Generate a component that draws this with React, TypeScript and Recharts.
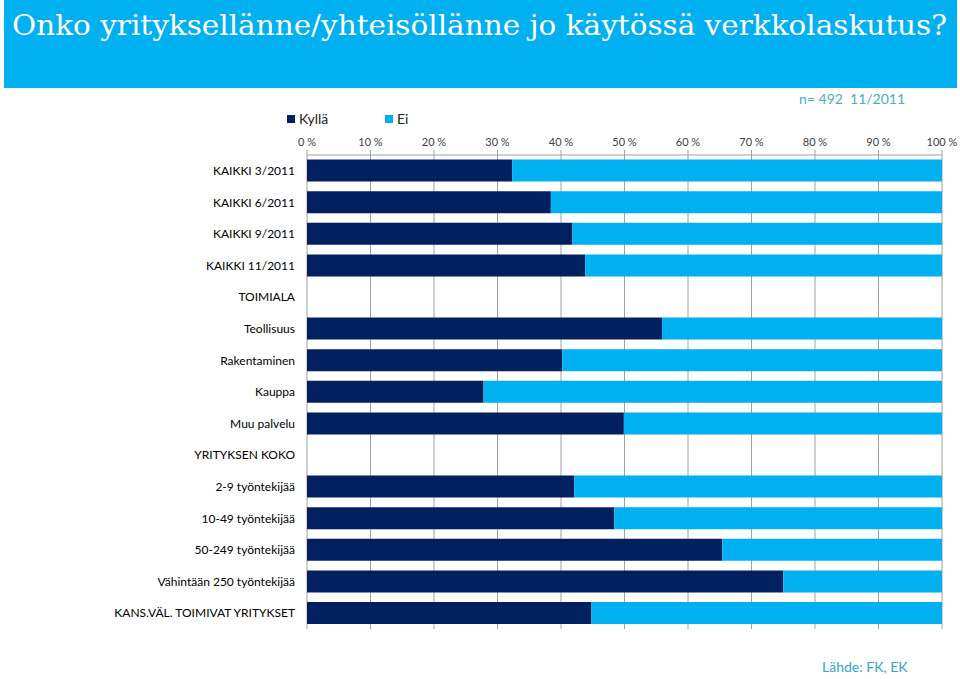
import React from 'react';
import { BarChart, Bar, XAxis, YAxis, CartesianGrid } from 'recharts';

const categories = [
  'KAIKKI 3/2011',
  'KAIKKI 6/2011',
  'KAIKKI 9/2011',
  'KAIKKI 11/2011',
  'TOIMIALA',
  'Teollisuus',
  'Rakentaminen',
  'Kauppa',
  'Muu palvelu',
  'YRITYKSEN KOKO',
  '2-9 työntekijää',
  '10-49 työntekijää',
  '50-249 työntekijää',
  'Vähintään 250 työntekijää',
  'KANS.VÄL. TOIMIVAT YRITYKSET',
];

const kylla: (number | null)[] = [32.3, 38.4, 41.8, 43.8, null, 55.9, 40.2, 27.8, 49.9, null, 42.1, 48.4, 65.4, 75.0, 44.8];
const ei: (number | null)[] = [67.7, 61.6, 58.2, 56.2, null, 44.1, 59.8, 72.2, 50.1, null, 57.9, 51.6, 34.6, 25.0, 55.2];

const seriesNames = ['Kyllä', 'Ei'];
const seriesColors = ['#002060', '#00B0F0'];

const xTicks = [0, 10, 20, 30, 40, 50, 60, 70, 80, 90, 100];
const rowTicks = [0, 1, 2, 3, 4, 5, 6, 7, 8, 9, 10, 11, 12, 13, 14, 15];

const data = categories.map((name, i) => ({ name, Kyllä: kylla[i], Ei: ei[i] }));

const FONT = 'Lato, "Open Sans", sans-serif';

export default function App() {
  return (
    <div style={{ position: 'absolute', left: 0, top: 0, width: 960, height: 679, background: '#fff', fontFamily: FONT }}>
      <svg width={960} height={92} style={{ position: 'absolute', left: 0, top: 0 }}>
        <rect x={4} y={0} width={953} height={88} fill="#00B0F0" />
        <text
          x={12}
          y={35}
          fontFamily='"DejaVu Serif", "Liberation Serif", serif'
          fontSize={28}
          fill="#fff"
          textLength={935}
          lengthAdjust="spacingAndGlyphs"
        >
          Onko yrityksellänne/yhteisöllänne jo käytössä verkkolaskutus?
        </text>
      </svg>
      <div style={{ position: 'absolute', left: 799, top: 90, fontSize: 14, color: '#4BACC6', whiteSpace: 'nowrap' }}>
        n= 492&nbsp; 11/2011
      </div>
      <div
        style={{
          position: 'absolute',
          left: 287,
          top: 111,
          display: 'flex',
          alignItems: 'center',
          fontSize: 14,
          color: '#222',
          lineHeight: '16px',
        }}
      >
        {seriesNames.map((n, i) => (
          <div key={n} style={{ display: 'flex', alignItems: 'center', width: 98 }}>
            <span style={{ display: 'inline-block', width: 8, height: 8, background: seriesColors[i], marginRight: 4 }} />
            <span>{n}</span>
          </div>
        ))}
      </div>
      <div style={{ position: 'absolute', left: 822, top: 658, fontSize: 14, color: '#31A5D0', whiteSpace: 'nowrap' }}>
        Lähde: FK, EK
      </div>
      <BarChart
        width={960}
        height={679}
        data={data}
        layout="vertical"
        margin={{ top: 125, right: 18, bottom: 50, left: 0 }}
        barCategoryGap="14.5%"
        style={{ position: 'absolute', left: 0, top: 0 }}
      >
        <CartesianGrid horizontal={false} vertical stroke="#A0A0A0" strokeWidth={1} />
        <XAxis
          type="number"
          orientation="top"
          domain={[0, 100]}
          ticks={xTicks}
          tickFormatter={(v: number) => `${v} %`}
          height={30}
          stroke="#A0A0A0"
          tickSize={5}
          tickMargin={4}
          tick={{ fontSize: 11, fill: '#404040', fontFamily: FONT }}
          interval={0}
        />
        <YAxis
          yAxisId="cat"
          type="category"
          dataKey="name"
          width={307}
          axisLine={false}
          tickLine={false}
          tickSize={6}
          tickMargin={6}
          interval={0}
          tick={{ fontSize: 12, fill: '#000', fontFamily: FONT }}
        />
        <YAxis
          yAxisId="rows"
          type="number"
          domain={[0, 15]}
          ticks={rowTicks}
          reversed
          width={0}
          stroke="#A0A0A0"
          tickSize={4}
          tickFormatter={() => ''}
          interval={0}
        />
        <Bar yAxisId="cat" dataKey="Kyllä" stackId="a" fill={seriesColors[0]} isAnimationActive={false} />
        <Bar yAxisId="cat" dataKey="Ei" stackId="a" fill={seriesColors[1]} isAnimationActive={false} />
      </BarChart>
    </div>
  );
}
